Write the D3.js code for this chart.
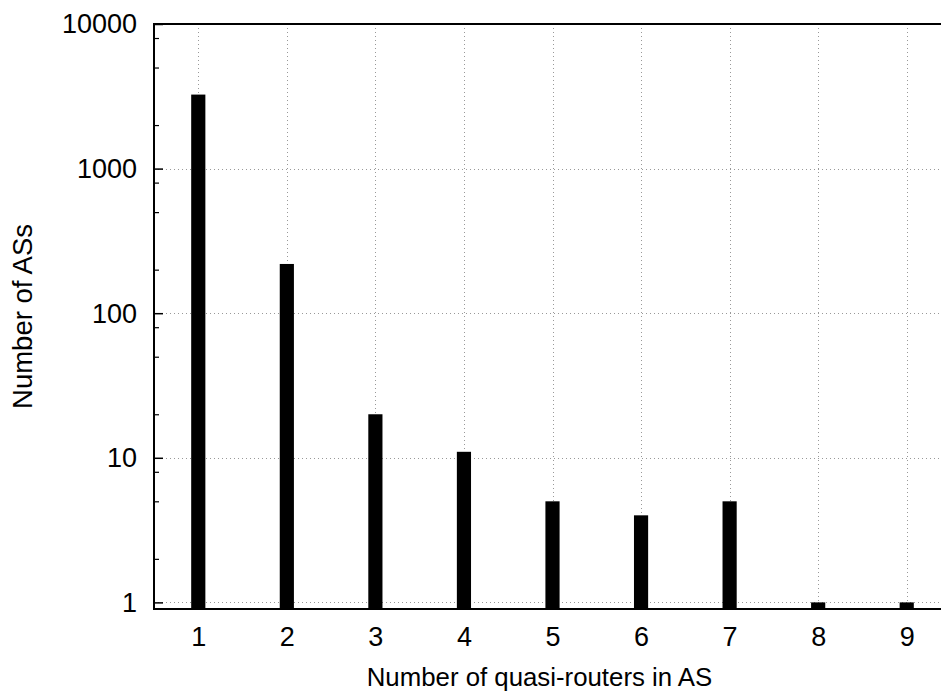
<!DOCTYPE html>
<html>
<head>
<meta charset="utf-8">
<script src="https://cdn.jsdelivr.net/npm/d3@7/dist/d3.min.js"></script>
<style>
  html, body { margin: 0; padding: 0; background: #fff; overflow: hidden; }
  svg { display: block; }
  text { font-family: "Liberation Sans", Arial, Helvetica, sans-serif; fill: #000; }
</style>
</head>
<body>
<script>
// Number of quasi-routers per AS and how many ASs have that count
const routerCounts = [1, 2, 3, 4, 5, 6, 7, 8, 9];
const asCounts = [3250, 219, 20, 11, 5, 4, 5, 1, 1];
const yTickValues = [1, 10, 100, 1000, 10000];
const yMinorTicks = [2, 5, 8, 20, 50, 80, 200, 500, 800, 2000, 5000, 8000];
const xLabel = "Number of quasi-routers in AS";
const yLabel = "Number of ASs";

const W = 941, H = 693;
const plotLeft = 154, plotRight = 951, plotTop = 24, plotBottom = 609;
const tickFont = 27, xTitleFont = 25.8, yTitleFont = 27.5;

const svg = d3.select("body").append("svg").attr("width", W).attr("height", H);

const x = d3.scaleLinear().domain([0.5, 9.5]).range([plotLeft, plotRight]);
const y = d3.scaleLog().domain([0.9, 10000]).range([plotBottom, plotTop]);
const barW = (x(2) - x(1)) * 0.16;

// dotted grid
const grid = svg.append("g").attr("stroke", "#999").attr("stroke-width", 1)
  .attr("stroke-dasharray", "1,3").attr("shape-rendering", "crispEdges");
grid.selectAll("line.gx").data(routerCounts).join("line")
  .attr("x1", d => Math.round(x(d)) + 0.5).attr("x2", d => Math.round(x(d)) + 0.5)
  .attr("y1", plotBottom).attr("y2", plotTop);
grid.selectAll("line.gy").data(yTickValues).join("line")
  .attr("y1", d => Math.round(y(d)) + 0.5).attr("y2", d => Math.round(y(d)) + 0.5)
  .attr("x1", plotLeft).attr("x2", plotRight);

// bars
svg.append("g").selectAll("rect").data(routerCounts).join("rect")
  .attr("x", (d) => x(d) - barW / 2)
  .attr("width", barW)
  .attr("y", (d, i) => y(asCounts[i]))
  .attr("height", (d, i) => plotBottom - y(asCounts[i]))
  .attr("fill", "#000");

// y axis with inward ticks
const yAxis = d3.axisRight(y).tickValues(yTickValues).tickSize(9).tickFormat("");
const gy = svg.append("g").attr("transform", `translate(${plotLeft},0)`).call(yAxis);
gy.select(".domain").remove();
gy.selectAll(".tick line").attr("stroke", "#000").attr("stroke-width", 1.5);
const yMinor = d3.axisRight(y).tickValues(yMinorTicks).tickSize(5).tickFormat("");
const gym = svg.append("g").attr("transform", `translate(${plotLeft},0)`).call(yMinor);
gym.select(".domain").remove();
gym.selectAll(".tick line").attr("stroke", "#000").attr("stroke-width", 1.2);

// y tick labels
svg.append("g").selectAll("text").data(yTickValues).join("text")
  .attr("x", plotLeft - 17).attr("y", d => y(d)).attr("dy", "0.35em")
  .attr("text-anchor", "end").attr("font-size", tickFont)
  .text(d => d3.format("d")(d));

// x axis labels
const xAxis = d3.axisBottom(x).tickValues(routerCounts).tickSize(0).tickPadding(18);
const gx = svg.append("g").attr("transform", `translate(0,${plotBottom})`).call(xAxis);
gx.select(".domain").remove();
gx.selectAll("text").attr("font-size", tickFont).attr("font-family", "Liberation Sans, Arial, sans-serif");

// frame
const frame = svg.append("g").attr("stroke", "#000").attr("stroke-width", 2).attr("fill", "none");
frame.append("line").attr("x1", plotLeft).attr("x2", plotLeft).attr("y1", plotTop).attr("y2", plotBottom);
frame.append("line").attr("x1", plotLeft - 1).attr("x2", plotRight).attr("y1", plotTop).attr("y2", plotTop);
frame.append("line").attr("x1", plotLeft - 1).attr("x2", plotRight).attr("y1", plotBottom).attr("y2", plotBottom);
frame.append("line").attr("x1", plotRight).attr("x2", plotRight).attr("y1", plotTop).attr("y2", plotBottom);

// axis titles
svg.append("text").attr("x", (plotLeft + W) / 2 - 8).attr("y", 686)
  .attr("text-anchor", "middle").attr("font-size", xTitleFont).text(xLabel);
svg.append("text").attr("transform", `translate(32,${(plotTop + plotBottom) / 2}) rotate(-90)`)
  .attr("text-anchor", "middle").attr("font-size", yTitleFont).text(yLabel);
</script>
</body>
</html>
